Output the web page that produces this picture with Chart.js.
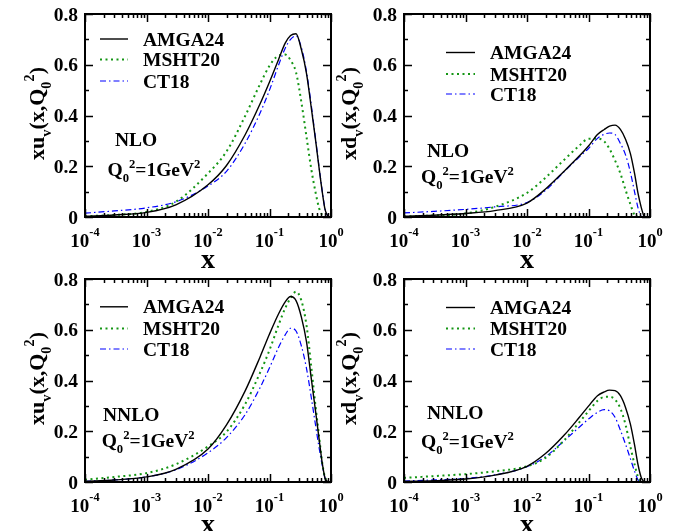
<!DOCTYPE html>
<html>
<head>
<meta charset="utf-8">
<script src="https://cdn.jsdelivr.net/npm/chart.js@4.4.1/dist/chart.umd.min.js"></script>
<style>
  body { margin: 0; background: #fff; width: 694px; height: 531px; overflow: hidden; position: relative; }
  canvas { position: absolute; }
</style>
</head>
<body>
<canvas id="c1"></canvas>
<canvas id="c2"></canvas>
<canvas id="c3"></canvas>
<canvas id="c4"></canvas>
<script>
// x grid shared by all curves
const xGrid = [1e-4, 3e-4, 1e-3, 3e-3, 0.01, 0.02, 0.04, 0.07, 0.1, 0.14, 0.18, 0.22, 0.27, 0.33, 0.4, 0.48, 0.56, 0.64, 0.72, 0.8, 0.9];

// NLO xu_v
const nloUvAMGA = [0.003, 0.008, 0.018, 0.048, 0.127, 0.203, 0.323, 0.445, 0.532, 0.62, 0.685, 0.715, 0.722, 0.66, 0.565, 0.427, 0.305, 0.193, 0.1, 0.03, 0];
const nloUvMSHT = [0.003, 0.008, 0.02, 0.06, 0.172, 0.258, 0.397, 0.523, 0.596, 0.636, 0.64, 0.618, 0.57, 0.452, 0.315, 0.186, 0.098, 0.035, 0.008, 0, null];
const nloUvCT   = [0.015, 0.024, 0.036, 0.06, 0.122, 0.18, 0.29, 0.409, 0.5, 0.598, 0.665, 0.7, 0.714, 0.668, 0.572, 0.437, 0.31, 0.197, 0.103, 0.032, 0];

// NLO xd_v
const nloDvAMGA = [0.003, 0.007, 0.014, 0.025, 0.055, 0.11, 0.18, 0.239, 0.28, 0.325, 0.345, 0.358, 0.362, 0.345, 0.306, 0.25, 0.173, 0.092, 0.038, 0, null];
const nloDvMSHT = [0.002, 0.006, 0.014, 0.04, 0.095, 0.155, 0.225, 0.28, 0.308, 0.309, 0.298, 0.268, 0.223, 0.172, 0.107, 0.05, 0.008, 0, null, null, null];
const nloDvCT   = [0.016, 0.022, 0.03, 0.04, 0.057, 0.105, 0.178, 0.235, 0.27, 0.31, 0.326, 0.331, 0.325, 0.29, 0.245, 0.176, 0.1, 0.035, 0, null, null];

// NNLO xu_v
const nnloUvAMGA = [0.003, 0.008, 0.02, 0.05, 0.13, 0.225, 0.358, 0.492, 0.583, 0.662, 0.71, 0.731, 0.715, 0.65, 0.552, 0.404, 0.28, 0.17, 0.075, 0.015, 0];
const nnloUvMSHT = [0.009, 0.02, 0.035, 0.07, 0.14, 0.198, 0.306, 0.43, 0.52, 0.618, 0.685, 0.725, 0.75, 0.715, 0.617, 0.45, 0.3, 0.18, 0.075, 0.018, 0];
const nnloUvCT   = [0.003, 0.008, 0.02, 0.048, 0.115, 0.175, 0.265, 0.371, 0.45, 0.53, 0.58, 0.606, 0.595, 0.536, 0.447, 0.33, 0.225, 0.135, 0.065, 0.015, 0];

// NNLO xd_v
const nnloDvAMGA = [0.002, 0.005, 0.012, 0.027, 0.062, 0.112, 0.184, 0.253, 0.299, 0.34, 0.355, 0.362, 0.36, 0.34, 0.294, 0.228, 0.147, 0.067, 0.018, 0, null];
const nnloDvMSHT = [0.016, 0.023, 0.031, 0.042, 0.062, 0.095, 0.164, 0.234, 0.279, 0.32, 0.335, 0.336, 0.325, 0.29, 0.226, 0.139, 0.07, 0.02, 0, null, null];
const nnloDvCT   = [0.004, 0.008, 0.014, 0.028, 0.06, 0.1, 0.162, 0.215, 0.248, 0.275, 0.285, 0.28, 0.255, 0.204, 0.149, 0.092, 0.043, 0.008, 0, null, null];

const seriesNames = ['AMGA24', 'MSHT20', 'CT18'];
const xTickPowers = [-4, -3, -2, -1, 0];
const yTickValues = [0, 0.2, 0.4, 0.6, 0.8];
const yTickLabels = ['0', '0.2', '0.4', '0.6', '0.8'];

const FONT = '"Liberation Serif", "Times New Roman", serif';
const lineStyles = [
  { borderColor: '#000000', borderWidth: 1.4, borderDash: [] },
  { borderColor: 'rgb(20,150,20)', borderWidth: 2, borderDash: [2, 3.5] },
  { borderColor: 'rgb(0,0,255)', borderWidth: 1.2, borderDash: [6, 3, 1.5, 3] }
];

const panels = [
  { id: 'c1', left: 0, top: 0, h: 275, flav: 'u', order: 'NLO', data: [nloUvAMGA, nloUvMSHT, nloUvCT],
    yTitleX: 44, legend: { x1: 100, x2: 128, tx: 143, rows: [39, 59.5, 81] }, orderPos: [115, 145.5], qPos: [107.5, 176] },
  { id: 'c2', left: 319, top: 0, h: 275, flav: 'd', order: 'NLO', data: [nloDvAMGA, nloDvMSHT, nloDvCT],
    yTitleX: 37, legend: { x1: 127, x2: 156, tx: 171, rows: [52.5, 74, 94] }, orderPos: [108, 156.7], qPos: [102, 183] },
  { id: 'c3', left: 0, top: 265, h: 266, flav: 'u', order: 'NNLO', data: [nnloUvAMGA, nnloUvMSHT, nnloUvCT],
    yTitleX: 44, legend: { x1: 100, x2: 128, tx: 143, rows: [41.8, 63.5, 84] }, orderPos: [103, 156], qPos: [101.7, 181.7] },
  { id: 'c4', left: 319, top: 265, h: 266, flav: 'd', order: 'NNLO', data: [nnloDvAMGA, nnloDvMSHT, nnloDvCT],
    yTitleX: 37, legend: { x1: 127, x2: 156, tx: 171, rows: [42.5, 63.5, 84] }, orderPos: [108, 154], qPos: [102, 182.7] }
];

// text with sub/superscripts: parts = [[text, mode]] mode 0 normal, -1 sub, 1 sup
function drawRich(ctx, parts, x, y, size, align, supShift, subShift) {
  const small = size * 0.65;
  const widths = parts.map(([t, m]) => {
    ctx.font = 'bold ' + (m ? small : size) + 'px ' + FONT;
    return ctx.measureText(t).width;
  });
  const total = widths.reduce((a, b) => a + b, 0);
  let cx = align === 'center' ? x - total / 2 : (align === 'right' ? x - total : x);
  parts.forEach(([t, m], i) => {
    ctx.font = 'bold ' + (m ? small : size) + 'px ' + FONT;
    let dy = 0;
    if (m === 1) dy = -size * supShift;
    if (m === -1) dy = size * subShift;
    ctx.fillText(t, cx, y + dy);
    cx += widths[i];
  });
}

const framePlugin = {
  id: 'frame',
  afterDraw(chart) {
    const ctx = chart.ctx;
    const a = chart.chartArea;
    const xs = chart.scales.x, ys = chart.scales.y;
    const p = chart.options.plugins.frame;
    ctx.save();
    ctx.strokeStyle = '#000';
    ctx.fillStyle = '#000';
    ctx.lineWidth = 2;
    ctx.strokeRect(a.left, a.top, a.right - a.left, a.bottom - a.top);

    // ticks, inward on all four sides
    ctx.lineWidth = 1.5;
    ctx.beginPath();
    for (let n = -4; n <= 0; n++) {
      for (let m = 1; m <= 9; m++) {
        const v = m * Math.pow(10, n);
        if (v > 1.0001) break;
        const px = Math.round(xs.getPixelForValue(v)) + 0.5;
        const len = m === 1 ? 8 : 4;
        ctx.moveTo(px, a.bottom); ctx.lineTo(px, a.bottom - len);
        ctx.moveTo(px, a.top); ctx.lineTo(px, a.top + len);
      }
    }
    for (let k = 0; k <= 8; k++) {
      const py = Math.round(ys.getPixelForValue(k / 10)) + 0.5;
      const len = k % 2 === 0 ? 8 : 4;
      ctx.moveTo(a.left, py); ctx.lineTo(a.left + len, py);
      ctx.moveTo(a.right, py); ctx.lineTo(a.right - len, py);
    }
    ctx.stroke();

    // tick labels
    ctx.textBaseline = 'alphabetic';
    ctx.textAlign = 'left';
    xTickPowers.forEach(n => {
      const px = xs.getPixelForValue(Math.pow(10, n));
      drawRich(ctx, [['10', 0], [String(n), 1]], px, a.bottom + 30, 19, 'center', 0.58, 0);
    });
    yTickValues.forEach((v, i) => {
      const py = ys.getPixelForValue(v);
      drawRich(ctx, [[yTickLabels[i], 0]], a.left - 7, py + 6.5, 19.5, 'right', 0, 0);
    });

    // axis titles
    drawRich(ctx, [['x', 0]], (a.left + a.right) / 2, a.bottom + 51, 28, 'center', 0, 0);
    ctx.save();
    ctx.translate(p.yTitleX, (a.top + a.bottom) / 2 - 2);
    ctx.rotate(-Math.PI / 2);
    drawRich(ctx, [['x' + p.flav, 0], ['v', -1], ['(x,Q', 0], ['0', -1], ['2', 1], [')', 0]], 0, 0, 22, 'center', 0.45, 0.3);
    ctx.restore();

    // legend
    const lg = p.legend;
    chart.data.datasets.forEach((ds, i) => {
      const ry = lg.rows[i];
      ctx.save();
      ctx.strokeStyle = ds.borderColor;
      ctx.lineWidth = ds.borderWidth;
      ctx.setLineDash(ds.borderDash);
      ctx.beginPath();
      ctx.moveTo(lg.x1, ry);
      ctx.lineTo(lg.x2, ry);
      ctx.stroke();
      ctx.restore();
      drawRich(ctx, [[ds.label, 0]], lg.tx, ry + 6.5, 19.5, 'left', 0, 0);
    });

    // annotations
    drawRich(ctx, [[p.order, 0]], p.orderPos[0], p.orderPos[1], 19.5, 'left', 0, 0);
    drawRich(ctx, [['Q', 0], ['0', -1], ['2', 1], ['=1GeV', 0], ['2', 1]], p.qPos[0], p.qPos[1], 19.5, 'left', 0.42, 0.33);
    ctx.restore();
  }
};

panels.forEach(pn => {
  const cv = document.getElementById(pn.id);
  cv.width = 347;
  cv.height = pn.h;
  cv.style.left = pn.left + 'px';
  cv.style.top = pn.top + 'px';
  cv.style.width = '347px';
  cv.style.height = pn.h + 'px';

  const datasets = pn.data.map((arr, i) => Object.assign({
    label: seriesNames[i],
    data: xGrid.map((x, j) => ({ x: x, y: arr[j] })),
    pointRadius: 0,
    cubicInterpolationMode: 'monotone',
    spanGaps: false,
    fill: false
  }, lineStyles[i]));

  new Chart(cv.getContext('2d'), {
    type: 'line',
    data: { datasets: datasets },
    options: {
      responsive: false,
      animation: false,
      devicePixelRatio: 1,
      layout: { padding: { left: 85, right: 16, top: 14, bottom: pn.h - 217 } },
      plugins: {
        legend: { display: false },
        tooltip: { enabled: false },
        title: { display: false },
        frame: { yTitleX: pn.yTitleX, flav: pn.flav, legend: pn.legend, order: pn.order, orderPos: pn.orderPos, qPos: pn.qPos }
      },
      scales: {
        x: { type: 'logarithmic', min: 1e-4, max: 1, display: false },
        y: { type: 'linear', min: 0, max: 0.8, display: false }
      }
    },
    plugins: [framePlugin]
  });
});
</script>
</body>
</html>
